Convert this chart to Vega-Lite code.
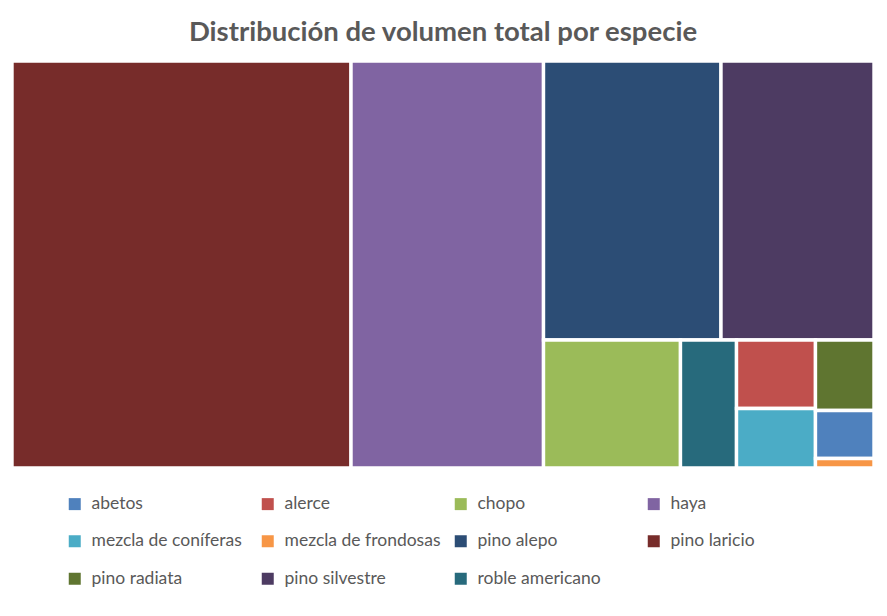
{
  "$schema": "https://vega.github.io/schema/vega-lite/v6.json",
  "width": 862,
  "height": 407,
  "autosize": "none",
  "padding": {"left": 12, "top": 61, "right": 13, "bottom": 148},
  "background": "white",
  "title": {
    "text": "Distribución de volumen total por especie",
    "font": "Lato",
    "fontSize": 27.5,
    "fontWeight": "bold",
    "color": "#595959",
    "anchor": "middle",
    "offset": 13
  },
  "data": {
    "values": [
      {"especie": "pino laricio", "x0": 0, "x1": 39.33, "y0": 0, "y1": 100},
      {"especie": "haya", "x0": 39.33, "x1": 61.66, "y0": 0, "y1": 100},
      {"especie": "pino alepo", "x0": 61.66, "x1": 82.25, "y0": 0, "y1": 68.55},
      {"especie": "pino silvestre", "x0": 82.25, "x1": 100, "y0": 0, "y1": 68.55},
      {"especie": "chopo", "x0": 61.66, "x1": 77.55, "y0": 68.55, "y1": 100},
      {"especie": "roble americano", "x0": 77.55, "x1": 84.05, "y0": 68.55, "y1": 100},
      {"especie": "alerce", "x0": 84.05, "x1": 93.21, "y0": 68.55, "y1": 85.38},
      {"especie": "mezcla de coníferas", "x0": 84.05, "x1": 93.21, "y0": 85.38, "y1": 100},
      {"especie": "pino radiata", "x0": 93.21, "x1": 100, "y0": 68.55, "y1": 85.87},
      {"especie": "abetos", "x0": 93.21, "x1": 100, "y0": 85.87, "y1": 97.67},
      {"especie": "mezcla de frondosas", "x0": 93.21, "x1": 100, "y0": 97.67, "y1": 100}
    ]
  },
  "mark": {"type": "rect", "stroke": "white", "strokeWidth": 3.4},
  "encoding": {
    "x": {"field": "x0", "type": "quantitative", "scale": {"domain": [0, 100], "nice": false, "zero": false}, "axis": null},
    "x2": {"field": "x1"},
    "y": {"field": "y0", "type": "quantitative", "scale": {"domain": [0, 100], "nice": false, "zero": false, "reverse": true}, "axis": null},
    "y2": {"field": "y1"},
    "color": {
      "field": "especie",
      "type": "nominal",
      "scale": {
        "domain": ["abetos", "alerce", "chopo", "haya", "mezcla de coníferas", "mezcla de frondosas", "pino alepo", "pino laricio", "pino radiata", "pino silvestre", "roble americano"],
        "range": ["#4F81BD", "#C0504D", "#9BBB59", "#8064A2", "#4BACC6", "#F79646", "#2C4D75", "#772C2A", "#5F7530", "#4D3B62", "#276A7C"]
      },
      "legend": {
        "title": null,
        "orient": "none",
        "legendX": 54,
        "legendY": 434,
        "direction": "horizontal",
        "columns": 4,
        "gridAlign": "all",
        "columnPadding": 11,
        "rowPadding": 18.5,
        "symbolType": "square",
        "symbolSize": 144,
        "symbolStrokeWidth": 0,
        "symbolOpacity": 1,
        "labelFont": "Lato",
        "labelFontSize": 17.5,
        "labelColor": "#595959",
        "labelOffset": 8,
        "labelLimit": 300
      }
    },
    "tooltip": [{"field": "especie", "type": "nominal"}]
  },
  "config": {"view": {"stroke": null}}
}
